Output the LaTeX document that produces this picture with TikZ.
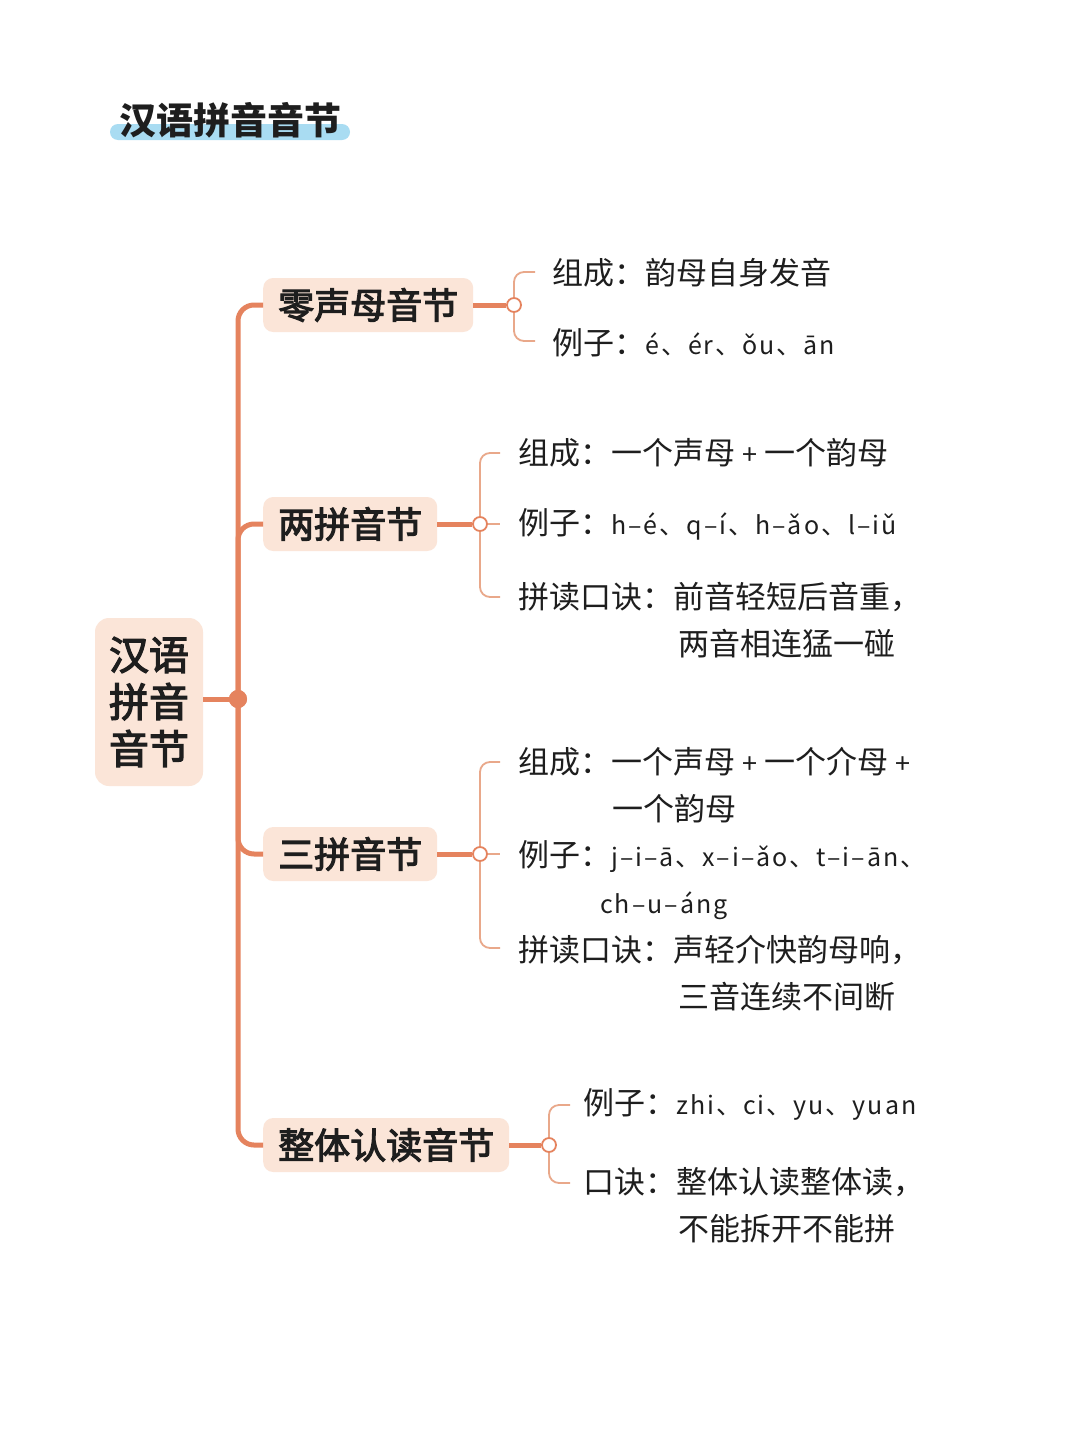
\documentclass[tikz,border=0pt]{standalone}
\usepackage{fontspec}
\setmainfont{Noto Sans CJK SC}
\newfontfamily\medf[FakeBold=3]{Noto Sans CJK SC}
\newfontfamily\pyf[LetterSpace=8]{Noto Sans CJK SC}
\definecolor{trunkc}{HTML}{E5835E}
\definecolor{brkc}{HTML}{E9A88A}
\definecolor{boxc}{HTML}{FBE5D8}
\definecolor{hlc}{HTML}{A9DCF2}
\definecolor{txt}{HTML}{1E1E1E}
\newcommand{\py}[1]{{\pyf\fontsize{25}{28}\selectfont #1}}
\newcommand{\pl}{{\fontsize{27}{28}\selectfont +}}
\begin{document}
\begin{tikzpicture}[x=1pt,y=-1pt,
  trunk/.style={draw=trunkc,line width=5pt},
  brk/.style={draw=brkc,line width=1.8pt,rounded corners=10pt},
  rootbox/.style={fill=boxc,rounded corners=14pt,minimum width=108pt,minimum height=168pt,align=center,text=txt,font=\medf\fontsize{40}{47}\selectfont,inner sep=0pt},
  brbox/.style={fill=boxc,rounded corners=10pt,minimum height=54pt,inner xsep=15pt,anchor=west,text=txt,font=\medf\fontsize{36}{40}\selectfont},
  hub/.style={circle,draw=trunkc,fill=white,line width=1.8pt,minimum size=14pt,inner sep=0pt},
  dotn/.style={circle,fill=trunkc,minimum size=18pt,inner sep=0pt},
  leaf/.style={anchor=west,inner sep=0pt,text=txt,font=\fontsize{31}{36}\selectfont}]
\useasboundingbox (0,0) rectangle (1080,1440);
\fill[white] (0,0) rectangle (1080,1440);
% title
\fill[hlc,rounded corners=8pt] (110,124) rectangle (350,140);
\node[inner sep=0pt,text=txt,font=\bfseries\fontsize{37}{40}\selectfont] (title) at (230,120) {汉语拼音音节};
% root
\node[rootbox] (root) at (149,702) {汉语\\拼音\\音节};
\node[dotn] (dot) at (238,699) {};
% branches
\node[brbox] (b1) at (263,305) {零声母音节};
\node[brbox] (b2) at (263,524) {两拼音节};
\node[brbox] (b3) at (263,854) {三拼音节};
\node[brbox] (b4) at (263,1145) {整体认读音节};
\draw[trunk] (dot.center -| root.east) -- (dot.center);
\draw[trunk,rounded corners=16pt] (b1.west) -| (dot.center);
\draw[trunk,rounded corners=16pt] (b2.west) -| (dot.center);
\draw[trunk,rounded corners=16pt] (b3.west) -| (dot.center);
\draw[trunk,rounded corners=16pt] (b4.west) -| (dot.center);
\node[dotn] at (dot) {};
% hubs
\node[hub] (c1) at (514,305) {};
\node[hub] (c2) at (480,524) {};
\node[hub] (c3) at (480,854) {};
\node[hub] (c4) at (549,1145) {};
\draw[trunk] (b1.east) -- (c1.west);
\draw[trunk] (b2.east) -- (c2.west);
\draw[trunk] (b3.east) -- (c3.west);
\draw[trunk] (b4.east) -- (c4.west);
% bracket ends
\coordinate (t1) at (535,272); \coordinate (u1) at (535,341);
\coordinate (t2) at (500,453); \coordinate (m2) at (500,524); \coordinate (u2) at (500,597);
\coordinate (t3) at (500,762); \coordinate (m3) at (500,854); \coordinate (u3) at (500,948);
\coordinate (t4) at (570,1105); \coordinate (u4) at (570,1183);
\draw[brk] (c1.north) |- (t1); \draw[brk] (c1.south) |- (u1);
\draw[brk] (c2.north) |- (t2); \draw[brk] (c2.south) |- (u2); \draw[brk] (c2.east) -- (m2);
\draw[brk] (c3.north) |- (t3); \draw[brk] (c3.south) |- (u3); \draw[brk] (c3.east) -- (m3);
\draw[brk] (c4.north) |- (t4); \draw[brk] (c4.south) |- (u4);
% leaves branch 1
\node[leaf] (l11) at (552,273) {组成：韵母自身发音};
\node[leaf] (l12) at (552,343) {例子：\py{é、ér、ǒu、ān}};
% branch 2
\node[leaf] (l21) at (518,453) {组成：一个声母 \pl{} 一个韵母};
\node[leaf] (l22) at (518,524) {例子：\py{h–é、q–í、h–ǎo、l–iǔ}};
\node[leaf] (l23) at (518,597) {拼读口诀：前音轻短后音重，};
\node[leaf] (l24) at (678,644) {两音相连猛一碰};
% branch 3
\node[leaf] (l31) at (518,762) {组成：一个声母 \pl{} 一个介母 \pl};
\node[leaf] (l32) at (612,809) {一个韵母};
\node[leaf] (l33) at (518,857) {例子：\py{j–i–ā、x–i–ǎo、t–i–ān、}};
\node[leaf] (l34) at (600,906) {\py{ch–u–áng}};
\node[leaf] (l35) at (518,950) {拼读口诀：声轻介快韵母响，};
\node[leaf] (l36) at (678,997) {三音连续不间断};
% branch 4
\node[leaf] (l41) at (583,1104) {例子：\py{zhi、ci、yu、yuan}};
\node[leaf] (l42) at (583,1182) {口诀：整体认读整体读，};
\node[leaf] (l43) at (678,1229) {不能拆开不能拼};
\end{tikzpicture}
\end{document}
